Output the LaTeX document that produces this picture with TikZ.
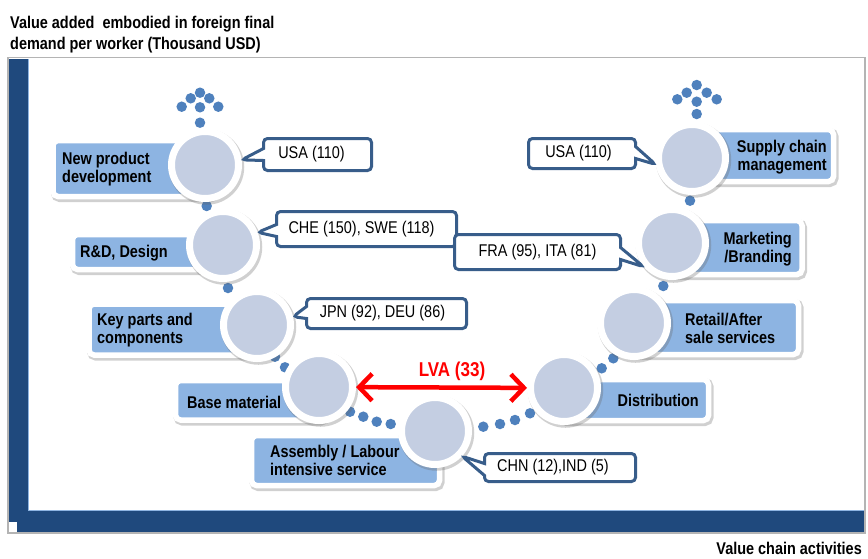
\documentclass[tikz,border=0pt]{standalone}
\usepackage{fontspec}
\setmainfont{Liberation Sans}
\newfontfamily\cf{Liberation Sans}[FakeStretch=0.85]
\usetikzlibrary{shapes.callouts,shadows,arrows.meta}
\definecolor{lblue}{HTML}{8DB4E2}
\definecolor{cfill}{HTML}{C4CEE2}
\definecolor{cbord}{HTML}{385D8A}
\definecolor{dotc}{HTML}{4F81BD}
\definecolor{frameblue}{HTML}{1F497D}
\definecolor{framegray}{HTML}{B4B4B4}
\definecolor{lvared}{HTML}{FF0000}
\tikzset{
 lbox/.style={draw=white, line width=5.5pt, fill=lblue, rounded corners=5pt, inner sep=0pt,
   drop shadow={opacity=0.3, fill=black!60, draw=black!60, line width=7pt, shadow xshift=1.5pt, shadow yshift=-2pt}},
 ltext/.style={font=\cf\bfseries\fontsize{17}{18}\selectfont, inner sep=0pt, text=black},
 stage/.style={circle, draw=white, line width=7pt, fill=cfill, inner sep=0pt, minimum size=67pt,
   drop shadow={opacity=0.3, fill=black!60, draw=black!60, line width=8.5pt, shadow xshift=1.5pt, shadow yshift=-2pt}},
 note/.style={rectangle callout, draw=cbord, line width=3pt, fill=white, rounded corners=4pt, inner sep=0pt,
   font=\cf\fontsize{17}{18}\selectfont, callout pointer width=12pt},
 dotn/.style={circle, fill=dotc, inner sep=0pt, minimum size=10.5pt},
 headtext/.style={font=\cf\bfseries\fontsize{17}{21}\selectfont, inner sep=0pt, text=black},
 gaparrow/.style={lvared, line width=4.5pt, {Straight Barb[length=13pt,width=27pt]}-{Straight Barb[length=13pt,width=27pt]}},
}
\begin{document}
\begin{tikzpicture}[x=1pt,y=-1pt]
\fill[white] (0,0) rectangle (868,558);
\useasboundingbox (0,0) rectangle (868,558);
% frame
\draw[framegray, line width=1.6pt] (8.2,57.3) rectangle (865,533.2);
\fill[frameblue] (9,59.3) rectangle (28.3,522.3);
\fill[frameblue] (17.3,511) rectangle (864.2,532.3);
\draw[lblue, line width=1pt] (28.8,59.3) -- (28.8,510.6) -- (864.2,510.6);
% titles
\node[headtext, align=left, anchor=north west] (title) at (10,15.5) {Value added\ \ embodied in foreign final\\demand per worker (Thousand USD)};
\node[headtext, anchor=base east] (xlabel) at (862,554) {Value chain activities};
% label boxes
\node[lbox, minimum width=162pt, minimum height=56pt] (b1) at (134,168.5) {};
\node[lbox, minimum width=159.5pt, minimum height=35pt] (b2) at (152.25,252) {};
\node[lbox, minimum width=173pt, minimum height=51pt] (b3) at (175.5,329.5) {};
\node[lbox, minimum width=149.5pt, minimum height=39.5pt] (b4) at (250.25,400.25) {};
\node[lbox, minimum width=188pt, minimum height=50pt] (b5) at (345.5,460.5) {};
\node[lbox, minimum width=148.5pt, minimum height=41pt] (b6) at (634.25,400) {};
\node[lbox, minimum width=168.5pt, minimum height=54pt] (b7) at (714.25,327.5) {};
\node[lbox, minimum width=134pt, minimum height=54pt] (b8) at (735,247.5) {};
\node[lbox, minimum width=143.5pt, minimum height=52pt] (b9) at (761.75,155.5) {};
% label texts
\node[ltext, align=left, anchor=west] (t1) at (62,169) {New product\\development};
\node[ltext, anchor=base west] (t2) at (80,257) {R\&D, Design};
\node[ltext, align=left, anchor=west] (t3) at (97,330) {Key parts and\\components};
\node[ltext, anchor=base west] (t4) at (187,408) {Base material};
\node[ltext, align=left, anchor=west] (t5) at (270,460.5) {Assembly / Labour\\intensive service};
\node[ltext, anchor=base east] (t6) at (699,406.5) {Distribution};
\node[ltext, align=left, anchor=west] (t7) at (685,328) {Retail/After\\sale services};
\node[ltext, align=right, anchor=east] (t8) at (792,249.5) {Marketing\\/Branding};
\node[ltext, align=right, anchor=east] (t9) at (827,157) {Supply chain\\management};
% dots
\foreach \p [count=\i] in {(200,92.7),(190.7,98.3),(209.3,98.3),(181.7,106.7),(200,107.3),(218.3,106.7),(200,122.7),
  (206.7,206),(228,288),(275,356.7),(285,367.3),
  (350,411.7),(363.3,416.7),(376.7,421.7),(390.7,424),
  (483.3,426.7),(500,424),(515,420),(530,413.3),
  (601.7,368.3),(613.3,358.3),(663.3,286),(690,200.7),
  (696.7,85),(686.7,92.7),(706.7,92.7),(677.3,99.3),(696.7,101.7),(716.7,99.3),(696.7,114)}
  \node[dotn] (d\i) at \p {};
% stage circles
\node[stage] (c1) at (205,165) {};
\node[stage] (c2) at (223,245) {};
\node[stage] (c3) at (257,325) {};
\node[stage] (c4) at (319,387) {};
\node[stage] (c5) at (435,431) {};
\node[stage] (c6) at (564,388) {};
\node[stage] (c7) at (634,323) {};
\node[stage] (c8) at (672,243) {};
\node[stage] (c9) at (692,158) {};
% callouts
\node[note, minimum width=108pt, minimum height=32pt, callout absolute pointer={(c1.8)}] (k1) at (317.5,154.5) {USA (110)\kern12pt};
\node[note, minimum width=180pt, minimum height=35pt, callout absolute pointer={(c2.20)}] (k2) at (366.5,229) {CHE (150), SWE (118)\kern10pt};
\node[note, minimum width=166pt, minimum height=35pt, callout absolute pointer={(c8.220)}] (k3) at (537.5,252) {FRA (95), ITA (81)};
\node[note, minimum width=107pt, minimum height=30pt, callout absolute pointer={(c9.190)}] (k4) at (582,153.5) {USA (110)\kern7pt};
\node[note, minimum width=160pt, minimum height=30pt, callout absolute pointer={(c3.13)}] (k5) at (386.5,313.5) {JPN (92), DEU (86)\kern8pt};
\node[note, minimum width=151pt, minimum height=28pt, callout absolute pointer={(c5.-43)}] (k6) at (560,467.5) {CHN (12),IND (5)\kern14pt};
% LVA arrow
\draw[gaparrow] (c4) -- (c6);
\node[font=\cf\bfseries\fontsize{20}{22}\selectfont, text=lvared, inner sep=0pt, anchor=base] (lva) at (452,376.5) {LVA (33)};
\end{tikzpicture}
\end{document}
